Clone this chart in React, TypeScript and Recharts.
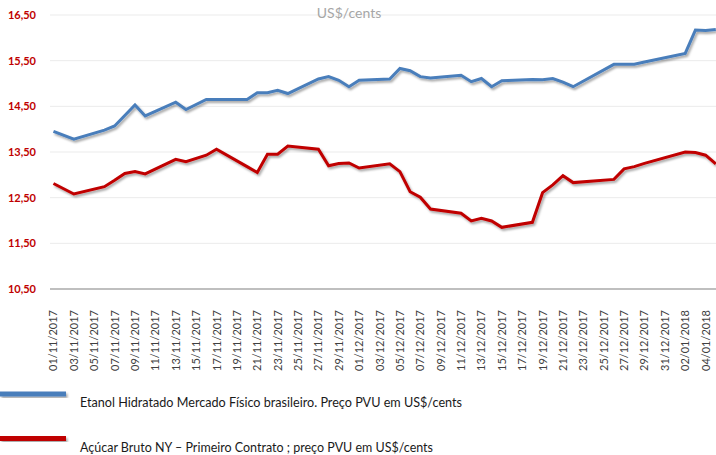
import React from 'react';
import { LineChart, Line, XAxis, YAxis, CartesianGrid } from 'recharts';

// Observation dates (dd/mm/yyyy)
const dates = [
  '01/11/2017', '03/11/2017', '06/11/2017', '07/11/2017', '08/11/2017', '09/11/2017', '10/11/2017',
  '13/11/2017', '14/11/2017', '16/11/2017', '17/11/2017', '20/11/2017', '21/11/2017', '22/11/2017',
  '23/11/2017', '24/11/2017', '27/11/2017', '28/11/2017', '29/11/2017', '30/11/2017', '01/12/2017',
  '04/12/2017', '05/12/2017', '06/12/2017', '07/12/2017', '08/12/2017', '11/12/2017', '12/12/2017',
  '13/12/2017', '14/12/2017', '15/12/2017', '18/12/2017', '19/12/2017', '20/12/2017', '21/12/2017',
  '22/12/2017', '26/12/2017', '27/12/2017', '28/12/2017', '29/12/2017', '02/01/2018', '03/01/2018',
  '04/01/2018', '05/01/2018',
];

// Etanol Hidratado Mercado Físico brasileiro (US$/cents)
const etanol = [
  13.95, 13.78, 13.98, 14.07, 14.30, 14.53, 14.29,
  14.59, 14.43, 14.65, 14.65, 14.65, 14.80, 14.80,
  14.85, 14.78, 15.10, 15.15, 15.07, 14.93, 15.07,
  15.10, 15.33, 15.28, 15.15, 15.12, 15.18, 15.04,
  15.11, 14.93, 15.06, 15.09, 15.08, 15.11, 15.03,
  14.93, 15.42, 15.42, 15.42, 15.47, 15.66, 16.17,
  16.16, 16.18,
];

// Açúcar Bruto NY – Primeiro Contrato (US$/cents)
const acucar = [
  12.81, 12.58, 12.74, 12.88, 13.03, 13.07, 13.02,
  13.34, 13.29, 13.43, 13.56, 13.18, 13.05, 13.45,
  13.45, 13.63, 13.56, 13.20, 13.25, 13.26, 13.15,
  13.24, 13.07, 12.63, 12.51, 12.25, 12.16, 11.99,
  12.05, 11.99, 11.85, 11.96, 12.61, 12.78, 12.98,
  12.83, 12.90, 13.13, 13.18, 13.25, 13.50, 13.49,
  13.43, 13.24,
];

// X-axis tick labels
const tickLabels = [
  '01/11/2017', '03/11/2017', '05/11/2017', '07/11/2017', '09/11/2017', '11/11/2017', '13/11/2017',
  '15/11/2017', '17/11/2017', '19/11/2017', '21/11/2017', '23/11/2017', '25/11/2017', '27/11/2017',
  '29/11/2017', '01/12/2017', '03/12/2017', '05/12/2017', '07/12/2017', '09/12/2017', '11/12/2017',
  '13/12/2017', '15/12/2017', '17/12/2017', '19/12/2017', '21/12/2017', '23/12/2017', '25/12/2017',
  '27/12/2017', '29/12/2017', '31/12/2017', '02/01/2018', '04/01/2018',
];

const yTicks = [10.5, 11.5, 12.5, 13.5, 14.5, 15.5, 16.5];

const seriesNames = [
  'Etanol Hidratado Mercado Físico brasileiro. Preço PVU em US$/cents',
  'Açúcar Bruto NY – Primeiro Contrato ; preço PVU em US$/cents',
];
const titleText = 'US$/cents';

const BLUE = '#4A7EBB';
const RED = '#C00000';
const FONT = 'Lato, "Open Sans", sans-serif';

function dayIndex(s: string): number {
  const [d, m, y] = s.split('/').map(Number);
  return Math.round((Date.UTC(y, m - 1, d) - Date.UTC(2017, 10, 1)) / 86400000);
}

const data = dates.map((d, i) => ({ day: dayIndex(d), etanol: etanol[i], acucar: acucar[i] }));
const tickDays = tickLabels.map(dayIndex);
const labelByDay: Record<number, string> = {};
tickLabels.forEach((l) => { labelByDay[dayIndex(l)] = l; });

const XTick = (props: any) => {
  const { x, y, payload } = props;
  return (
    <g transform={`translate(${x},${y})`}>
      <text
        transform="rotate(-90)"
        x={-13}
        y={0}
        dy={4}
        textAnchor="end"
        fill="#404040"
        fontSize={11}
        fontFamily={FONT}
      >
        {labelByDay[payload.value]}
      </text>
    </g>
  );
};

export default function App() {
  return (
    <div style={{ position: 'absolute', left: 0, top: 0, width: 716, height: 455, background: '#fff' }}>
      <svg width={0} height={0} style={{ position: 'absolute' }}>
        <defs>
          <filter id="lineShadow" x="-5%" y="-20%" width="110%" height="140%">
            <feDropShadow dx="1.5" dy="2" stdDeviation="1.2" floodColor="#000" floodOpacity="0.35" />
          </filter>
        </defs>
      </svg>
      <LineChart width={716} height={455} data={data} margin={{ top: 15, right: 0, bottom: 96, left: 0 }}>
        <CartesianGrid horizontal vertical={false} stroke="#EBEBEB" strokeWidth={1} />
        <XAxis
          type="number"
          dataKey="day"
          domain={[-0.34, 65.02]}
          allowDataOverflow
          ticks={tickDays}
          interval={0}
          height={70}
          tick={<XTick />}
          tickLine={false}
          axisLine={{ stroke: '#BFBFBF', strokeWidth: 2 }}
        />
        <YAxis
          type="number"
          domain={[10.5, 16.5]}
          ticks={yTicks}
          interval={0}
          width={50}
          tickLine={false}
          axisLine={false}
          tickSize={0}
          tickMargin={14}
          tickFormatter={(v: number) => v.toFixed(2).replace('.', ',')}
          tick={{ fill: RED, fontSize: 11, fontWeight: 700, fontFamily: FONT }}
        />
        <Line
          type="linear"
          dataKey="etanol"
          stroke={BLUE}
          strokeWidth={3}
          dot={false}
          activeDot={false}
          isAnimationActive={false}
          filter="url(#lineShadow)"
        />
        <Line
          type="linear"
          dataKey="acucar"
          stroke={RED}
          strokeWidth={3}
          dot={false}
          activeDot={false}
          isAnimationActive={false}
          filter="url(#lineShadow)"
        />
      </LineChart>
      <svg
        width={716}
        height={455}
        style={{ position: 'absolute', left: 0, top: 0, pointerEvents: 'none' }}
      >
        <text x={349} y={18} textAnchor="middle" fill="#A6A6A6" fontSize={14} fontFamily={FONT}>
          {titleText}
        </text>
        <rect x={0} y={391.5} width={66} height={5} fill={BLUE} filter="url(#lineShadow)" />
        <text x={80} y={407} fill="#1A1A1A" fontSize={13.5} fontFamily={FONT} textLength={382} lengthAdjust="spacingAndGlyphs">
          {seriesNames[0]}
        </text>
        <rect x={0} y={436} width={66} height={5} fill={RED} filter="url(#lineShadow)" />
        <text x={80} y={451.5} fill="#1A1A1A" fontSize={13.5} fontFamily={FONT} textLength={353} lengthAdjust="spacingAndGlyphs">
          {seriesNames[1]}
        </text>
      </svg>
    </div>
  );
}
